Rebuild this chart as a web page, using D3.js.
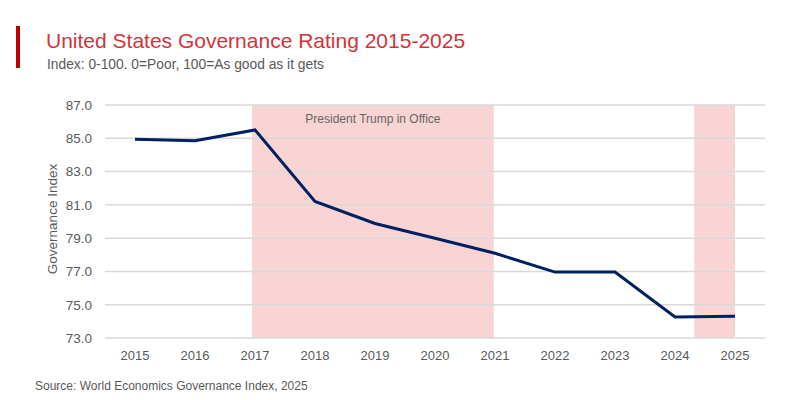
<!DOCTYPE html>
<html><head><meta charset="utf-8">
<script src="https://cdn.jsdelivr.net/npm/d3@7"></script>
<style>body{margin:0;background:#fff}svg{display:block;font-family:"Liberation Sans",Arial,sans-serif}</style>
</head><body>
<svg id="c" width="800" height="400"></svg>
<script>
const years = ["2015","2016","2017","2018","2019","2020","2021","2022","2023","2024","2025"];
const values = [84.94, 84.85, 85.5, 81.2, 79.88, 78.99, 78.09, 76.96, 76.96, 74.26, 74.3];
const yTicks = [73, 75, 77, 79, 81, 83, 85, 87];
const shades = [{from: 2016.95, to: 2020.98}, {from: 2024.32, to: 2025}];
const titleText = "United States Governance Rating 2015-2025";
const subtitleText = "Index: 0-100. 0=Poor, 100=As good as it gets";
const sourceText = "Source: World Economics Governance Index, 2025";
const annotation = "President Trump in Office";

const svg = d3.select("#c");
const pLeft = 105, pRight = 765, pTop = 105, pBottom = 338;
const x = d3.scaleBand().domain(years).range([pLeft, pRight]);
const xc = d => x(d) + x.bandwidth() / 2;
const xYear = d3.scaleLinear().domain([2015, 2025]).range([xc("2015"), xc("2025")]);
const y = d3.scaleLinear().domain([73, 87]).range([pBottom, pTop]);

// shaded periods
svg.selectAll("rect.shade").data(shades).enter().append("rect")
  .attr("class", "shade")
  .attr("x", d => xYear(d.from))
  .attr("width", d => xYear(d.to) - xYear(d.from))
  .attr("y", pTop).attr("height", pBottom - pTop)
  .attr("fill", "#f8d4d4");

// gridlines
svg.append("g").selectAll("line").data(yTicks).enter().append("line")
  .attr("x1", pLeft).attr("x2", pRight)
  .attr("y1", d => y(d)).attr("y2", d => y(d))
  .attr("stroke", "#d9d9d9").attr("stroke-width", 1.5);

// y axis
const yAxis = svg.append("g").attr("transform", `translate(${pLeft},0)`)
  .call(d3.axisLeft(y).tickValues(yTicks).tickFormat(d3.format(".1f")).tickSize(0).tickPadding(13));
yAxis.select(".domain").remove();
yAxis.selectAll("text").attr("fill", "#595959").attr("font-size", 13.5).attr("font-family", "Liberation Sans, Arial, sans-serif");

// x axis
const xAxis = svg.append("g").attr("transform", `translate(0,${pBottom})`)
  .call(d3.axisBottom(x).tickSize(0).tickPadding(13));
xAxis.select(".domain").remove();
xAxis.selectAll("text").attr("fill", "#595959").attr("font-size", 13).attr("font-family", "Liberation Sans, Arial, sans-serif");

// line
const line = d3.line().x((d, i) => xc(years[i])).y(d => y(d));
svg.append("path").datum(values).attr("d", line)
  .attr("fill", "none").attr("stroke", "#002060").attr("stroke-width", 3).attr("stroke-linejoin", "miter");

// annotation
svg.append("text").attr("x", (xYear(shades[0].from) + xYear(shades[0].to)) / 2).attr("y", 123)
  .attr("text-anchor", "middle").attr("font-size", 12).attr("fill", "#666").text(annotation);

// y axis title
svg.append("text").attr("transform", `translate(57,219) rotate(-90)`)
  .attr("text-anchor", "middle").attr("font-size", 13.5).attr("fill", "#595959").text("Governance Index");

// title block
svg.append("rect").attr("x", 16).attr("y", 26).attr("width", 4).attr("height", 42).attr("fill", "#c00000");
svg.append("text").attr("x", 46).attr("y", 48).attr("font-size", 21).attr("fill", "#d13438").text(titleText);
svg.append("text").attr("x", 47).attr("y", 69).attr("font-size", 13.8).attr("fill", "#595959").text(subtitleText);
svg.append("text").attr("x", 35).attr("y", 390).attr("font-size", 12).attr("fill", "#595959").text(sourceText);
</script>
</body></html>
